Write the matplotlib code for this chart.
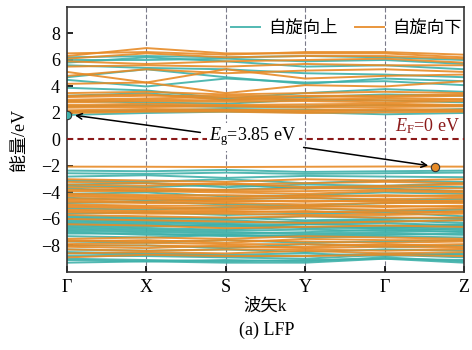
import matplotlib
matplotlib.use('Agg')
import matplotlib.pyplot as plt

plt.rcParams['font.family'] = ['Liberation Serif', 'Noto Sans CJK SC']
plt.rcParams['mathtext.fontset'] = 'custom'
plt.rcParams['mathtext.rm'] = 'Liberation Serif'
plt.rcParams['mathtext.it'] = 'Liberation Serif:italic'
plt.rcParams['axes.unicode_minus'] = True

# k-path
kpath_labels = ['Γ', 'X', 'S', 'Y', 'Γ', 'Z']
kpath_pos = [0, 1, 2, 3, 4, 5]

# energies (eV) at Γ, X, S, Y, Γ, Z
bands_up = [
    # conduction
    [1.85, 2.0, 2.1, 2.05, 1.9, 2.0],
    [2.1, 2.2, 2.3, 2.25, 2.15, 2.3],
    [2.5, 2.6, 2.45, 2.5, 2.6, 2.55],
    [2.9, 2.8, 2.7, 3.0, 2.95, 2.8],
    [3.3, 3.5, 3.0, 3.2, 3.4, 3.3],
    [3.9, 3.7, 3.1, 3.5, 3.8, 3.6],
    [4.5, 4.0, 4.6, 4.3, 4.4, 4.1],
    [4.7, 5.3, 4.7, 4.2, 4.6, 4.4],
    [5.6, 5.4, 5.3, 5.0, 4.9, 4.7],
    [5.8, 6.2, 5.9, 5.5, 5.6, 5.3],
    [6.0, 6.0, 6.1, 5.9, 6.0, 5.7],
    [6.2, 6.3, 6.2, 6.3, 6.2, 6.0],
    # valence
    [-2.35, -2.4, -2.3, -2.45, -2.4, -2.35],
    [-2.55, -2.6, -2.5, -2.6, -2.55, -2.5],
    [-2.8, -2.7, -2.9, -2.75, -2.8, -2.85],
    [-3.1, -3.2, -3.0, -3.3, -3.1, -3.2],
    [-3.4, -3.3, -3.6, -3.4, -3.5, -3.3],
    [-3.5, -3.6, -3.4, -3.7, -3.5, -3.6],
    [-3.7, -3.9, -3.8, -3.6, -3.7, -3.9],
    [-4.1, -4.0, -4.3, -4.2, -4.0, -4.1],
    [-4.4, -4.6, -4.5, -4.4, -4.6, -4.5],
    [-4.8, -4.7, -4.9, -5.0, -4.8, -4.7],
    [-5.2, -5.3, -5.1, -5.2, -5.4, -5.3],
    [-5.6, -5.5, -5.7, -5.6, -5.5, -5.8],
    [-5.8, -5.9, -6.0, -5.8, -5.9, -6.0],
    [-5.9, -6.0, -5.9, -6.1, -6.0, -5.9],
    [-6.0, -6.1, -6.1, -6.3, -6.2, -6.1],
    [-6.1, -6.2, -6.3, -6.2, -6.1, -6.3],
    [-6.2, -6.3, -6.4, -6.4, -6.3, -6.5],
    [-6.3, -6.4, -6.6, -6.4, -6.5, -6.4],
    [-6.4, -6.5, -6.5, -6.6, -6.7, -6.5],
    [-6.5, -6.6, -6.4, -6.7, -6.6, -6.6],
    [-6.6, -6.7, -6.8, -6.6, -6.7, -6.8],
    [-6.7, -6.8, -6.9, -6.8, -6.9, -6.7],
    [-6.8, -6.9, -7.0, -7.1, -7.0, -6.9],
    [-6.9, -7.0, -7.1, -7.0, -6.8, -7.0],
    [-7.0, -7.2, -7.2, -7.3, -7.2, -7.1],
    [-7.1, -7.1, -7.3, -7.2, -7.1, -7.2],
    [-7.3, -7.4, -7.2, -7.4, -7.3, -7.4],
    [-7.7, -7.8, -7.6, -7.8, -7.7, -7.6],
    [-8.0, -8.0, -8.2, -7.9, -8.1, -8.0],
    [-8.3, -8.4, -8.3, -8.5, -8.3, -8.4],
    [-8.5, -8.6, -8.7, -8.6, -8.8, -8.6],
    [-8.6, -8.7, -8.8, -8.8, -8.6, -8.7],
    [-8.8, -8.8, -8.9, -9.0, -8.7, -8.9],
    [-9.0, -9.1, -9.2, -9.1, -9.0, -9.1],
    [-9.1, -9.2, -9.3, -9.3, -9.0, -9.3],
    [-9.3, -9.2, -9.1, -9.2, -8.9, -9.2],
]

bands_down = [
    # conduction
    [2.0, 2.1, 2.1, 2.0, 2.05, 2.1],
    [2.1, 2.15, 2.2, 2.1, 2.2, 2.15],
    [2.2, 2.3, 2.25, 2.2, 2.3, 2.25],
    [2.4, 2.45, 2.5, 2.4, 2.45, 2.5],
    [2.5, 2.55, 2.55, 2.5, 2.6, 2.55],
    [2.6, 2.7, 2.6, 2.65, 2.7, 2.6],
    [2.8, 2.9, 2.85, 2.9, 2.8, 2.9],
    [2.9, 3.0, 2.95, 3.05, 2.95, 3.0],
    [3.0, 3.1, 3.2, 3.0, 3.1, 3.05],
    [3.2, 3.3, 3.3, 3.25, 3.2, 3.3],
    [3.3, 3.4, 3.0, 3.3, 3.3, 3.4],
    [3.5, 3.6, 3.4, 3.5, 3.6, 3.5],
    [4.2, 4.3, 3.5, 4.1, 4.0, 4.4],
    [5.1, 4.3, 5.3, 4.6, 4.8, 4.9],
    [4.8, 5.3, 5.0, 5.2, 5.3, 5.1],
    [5.5, 5.6, 5.5, 5.7, 5.6, 5.6],
    [5.9, 5.7, 5.9, 6.0, 6.1, 5.8],
    [6.1, 6.5, 6.2, 6.3, 6.3, 6.1],
    [6.3, 6.9, 6.5, 6.5, 6.5, 6.2],
    [6.5, 6.6, 6.4, 6.6, 6.6, 6.4],
    # valence
    [-2.05, -2.06, -2.08, -2.06, -2.04, -2.05],
    [-3.0, -3.1, -3.2, -3.0, -3.1, -3.0],
    [-3.2, -3.3, -3.4, -3.3, -3.2, -3.3],
    [-3.4, -3.5, -3.3, -3.6, -3.5, -3.4],
    [-3.6, -3.7, -3.8, -3.7, -3.6, -3.7],
    [-3.8, -3.8, -3.9, -3.9, -3.8, -3.9],
    [-3.9, -3.9, -4.0, -4.1, -3.9, -4.0],
    [-4.1, -4.2, -4.2, -4.3, -4.2, -4.3],
    [-4.2, -4.3, -4.4, -4.2, -4.3, -4.2],
    [-4.3, -4.4, -4.5, -4.4, -4.5, -4.4],
    [-4.5, -4.5, -4.7, -4.6, -4.7, -4.6],
    [-4.6, -4.7, -4.6, -4.7, -4.6, -4.7],
    [-4.7, -4.8, -4.8, -4.9, -4.8, -4.8],
    [-4.9, -5.0, -5.0, -5.1, -5.0, -5.1],
    [-5.0, -5.1, -5.2, -5.0, -5.1, -5.0],
    [-5.1, -5.2, -5.3, -5.2, -5.3, -5.2],
    [-5.3, -5.4, -5.4, -5.5, -5.4, -5.5],
    [-5.4, -5.5, -5.5, -5.4, -5.6, -5.4],
    [-5.5, -5.6, -5.6, -5.7, -5.7, -5.6],
    [-5.7, -5.8, -5.9, -5.8, -5.9, -5.9],
    [-6.0, -6.1, -6.2, -6.3, -6.2, -6.1],
    [-6.4, -6.5, -6.7, -6.6, -6.5, -6.6],
    [-7.5, -7.4, -7.5, -7.3, -7.4, -7.5],
    [-7.6, -7.7, -7.6, -7.7, -7.8, -7.7],
    [-7.7, -7.6, -7.8, -7.5, -7.6, -7.6],
    [-7.9, -7.8, -7.9, -7.9, -8.0, -7.9],
    [-8.0, -8.0, -8.1, -8.1, -7.9, -8.1],
    [-8.1, -8.2, -8.0, -8.2, -8.1, -8.2],
    [-8.3, -8.4, -8.3, -8.3, -8.4, -8.3],
    [-8.6, -8.5, -8.6, -8.4, -8.6, -8.5],
    [-8.9, -8.7, -8.8, -8.8, -8.7, -8.8],
]

cbm = (0.0, 1.85)
vbm = (4.63, -2.05)
gap_text = r'$E_{\mathrm{g}}$=3.85 eV'

c_up = '#3fb1aa'
c_down = '#e78b27'

fig = plt.figure(figsize=(4.72, 3.5), dpi=100)
ax = fig.add_axes([0.142, 0.223, 0.841, 0.757])

for i, b in enumerate(bands_up):
    ax.plot(kpath_pos, b, color=c_up, lw=1.4, alpha=0.9,
            label='自旋向上' if i == 0 else None, zorder=2)
for i, b in enumerate(bands_down):
    ax.plot(kpath_pos, b, color=c_down, lw=1.4, alpha=0.9,
            label='自旋向下' if i == 0 else None, zorder=2)

for x in kpath_pos[1:-1]:
    ax.axvline(x, color='#7a7a8a', lw=0.8, ls=(0, (4, 2)), zorder=1)

ax.axhline(0, color='#8b1a1a', lw=1.5, ls=(0, (3, 2)), zorder=3)
ax.text(4.95, 0.3, r'$E_{\mathrm{F}}$=0 eV', color='#8b1a1a', fontsize=13,
        ha='right', va='bottom')

ax.plot(*cbm, 'o', ms=6, mfc=c_up, mec='#333333', mew=0.8, zorder=5)
ax.plot(*vbm, 'o', ms=6, mfc=c_down, mec='#333333', mew=0.8, zorder=5)

bbox = dict(boxstyle='square,pad=0.15', fc='white', ec='none')
ax.text(2.34, 0.2, gap_text, fontsize=13, ha='center', va='center',
        bbox=bbox, zorder=6)
ax.annotate('', xy=(0.1, 1.82), xytext=(1.68, 0.53), zorder=6,
            arrowprops=dict(arrowstyle='->', color='black', lw=1.1,
                            shrinkA=0, shrinkB=0))
ax.annotate('', xy=(4.55, -1.97), xytext=(2.98, -0.6), zorder=6,
            arrowprops=dict(arrowstyle='->', color='black', lw=1.1,
                            shrinkA=0, shrinkB=0))

ax.set_xlim(0, 5)
ax.set_ylim(-10, 10)
ax.set_xticks(kpath_pos)
ax.set_xticklabels(kpath_labels)
ax.set_yticks([-8, -6, -4, -2, 0, 2, 4, 6, 8])
ax.tick_params(direction='in', labelsize=13, length=4, width=1.2, pad=5)
for s in ax.spines.values():
    s.set_linewidth(1.2)
    s.set_color('#333333')

ax.set_xlabel('波矢k', fontsize=12.5, labelpad=2)
ax.set_ylabel('能量/eV', fontsize=13, labelpad=9)
fig.text(0.565, 0.057, '(a) LFP', fontsize=13, ha='center', va='center')

ax.legend(loc='upper right', bbox_to_anchor=(1.012, 0.975), ncol=2,
          frameon=False, fontsize=12.5, handlelength=1.7,
          columnspacing=1.0, handletextpad=0.45, borderaxespad=0.0)

fig.savefig('out.png', dpi=100)
